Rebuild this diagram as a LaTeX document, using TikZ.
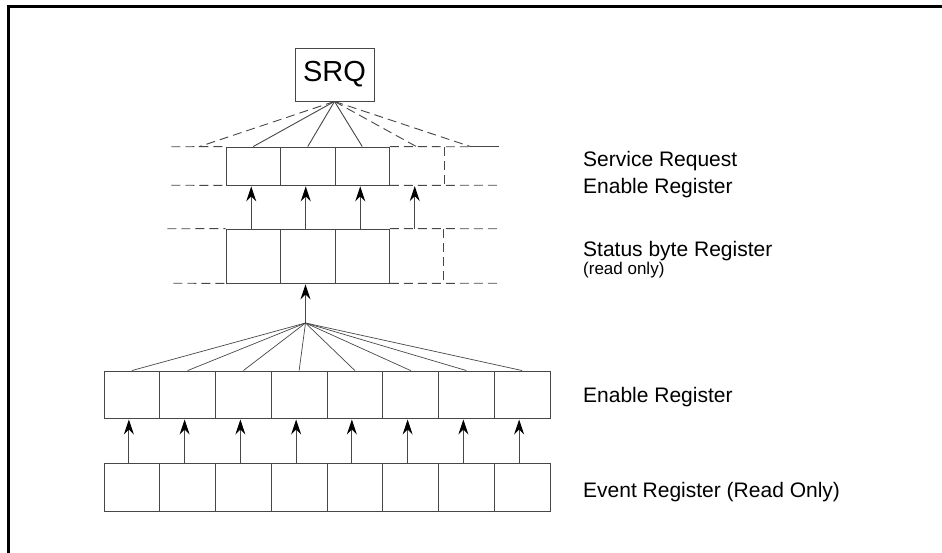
\documentclass[tikz,border=0pt]{standalone}
\usepackage{fontspec}
\setmainfont{Liberation Sans}
\usetikzlibrary{arrows.meta}
\tikzset{
  ln/.style={line width=0.9pt, draw=black!72},
  cell/.style={ln, rectangle, inner sep=0pt, minimum width=#1, anchor=center},
  vcell/.style={rectangle, inner sep=0pt, minimum width=54.5pt, minimum height=#1},
  dsh/.style={ln, dash pattern=on 9pt off 5pt},
  arr/.style={ln, -{Stealth[length=15pt,width=10pt,inset=5pt,color=black]}, shorten >=1pt},
  lbl/.style={anchor=base west, inner sep=0pt, font=\fontsize{21}{25}\selectfont},
  sml/.style={anchor=base west, inner sep=0pt, font=\fontsize{17}{20}\selectfont},
  frame/.style={line width=2.7pt, draw=black}
}
\begin{document}
\begin{tikzpicture}[x=1pt,y=-1pt]
\useasboundingbox (0,0) rectangle (942,553);
% frame
\draw[frame] (8.7,560) -- (8.7,6.7) -- (950,6.7);

% SRQ
\node[ln, rectangle, inner sep=0pt, minimum width=79pt, minimum height=53pt,
      font=\fontsize{29}{33}\selectfont] (SRQ) at (334.5,74.5) {SRQ};

% Service Request Enable register
\foreach \i in {0,1,2}
  \node[cell=54.5pt, minimum height=38pt] (sr\i) at ({226+54.5*(\i+0.5)},166) {};
\node[vcell=38pt] (srL) at (198.75,166) {};
\node[vcell=38pt] (sr3) at (416.75,166) {};
\node[vcell=38pt] (sr4) at (471.25,166) {};
\draw[dsh] (srL.north west) -- (sr0.north west);
\draw[dsh] (sr2.north east) -- (sr4.north);
\draw[ln] (sr4.north) -- (sr4.north east);
\draw[dsh] (srL.south west) -- (sr0.south west);
\draw[dsh] (sr2.south east) -- (sr4.south east);
\draw[dsh] (sr3.north east) -- (sr3.south east);

% fan from SRQ
\draw[dsh] (SRQ.south) -- (srL.north);
\foreach \i in {0,1,2} \draw[ln] (SRQ.south) -- (sr\i.north);
\draw[dsh] (SRQ.south) -- (sr3.north);
\draw[dsh] (SRQ.south) -- (sr4.north);

% Status byte register
\foreach \i in {0,1,2}
  \node[cell=54.5pt, minimum height=54pt] (sb\i) at ({226+54.5*(\i+0.5)},256) {};
\node[vcell=54pt] (sbL) at (198.75,256) {};
\node[vcell=54pt] (sb3) at (416.75,256) {};
\node[vcell=54pt] (sb4) at (471.25,256) {};
\draw[dsh] ([xshift=-4pt]sbL.north west) -- (sb0.north west);
\draw[dsh] (sb2.north east) -- (sb4.north east);
\draw[dsh] ([xshift=2pt]sbL.south west) -- (sb0.south west);
\draw[dsh] (sb2.south east) -- (sb4.south east);
\draw[dsh] ([xshift=-1pt]sb3.north east) -- ([xshift=-1pt]sb3.south east);

% arrows SBR -> SRE
\foreach \i in {0,1,2,3} \draw[arr] ([xshift=-2pt]sb\i.north) -- ([xshift=-2pt]sr\i.south);

% Enable register and event register
\foreach \i in {0,...,7} {
  \node[cell=55.75pt, minimum height=47pt] (en\i) at ({104+55.75*(\i+0.5)},394.5) {};
  \node[cell=55.75pt, minimum height=48pt] (ev\i) at ({104+55.75*(\i+0.5)},487) {};
}
\coordinate (apex) at (305.5,323);
\draw[arr] (apex) -- (apex |- sb1.south);
\foreach \i in {0,...,7} {
  \draw[ln, line width=0.7pt] (apex) -- (en\i.north);
  \draw[arr] ([xshift=-3pt]ev\i.north) -- ([xshift=-3pt]en\i.south);
}

% labels
\node[lbl] (t1) at (583,167) {Service Request};
\node[lbl] (t2) at (583,194) {Enable Register};
\node[lbl] (t3) at (583,257) {Status byte Register};
\node[sml] (t4) at (583,275) {(read only)};
\node[lbl] (t5) at (583,402) {Enable Register};
\node[lbl] (t6) at (583,497) {Event Register (Read Only)};
\end{tikzpicture}
\end{document}
